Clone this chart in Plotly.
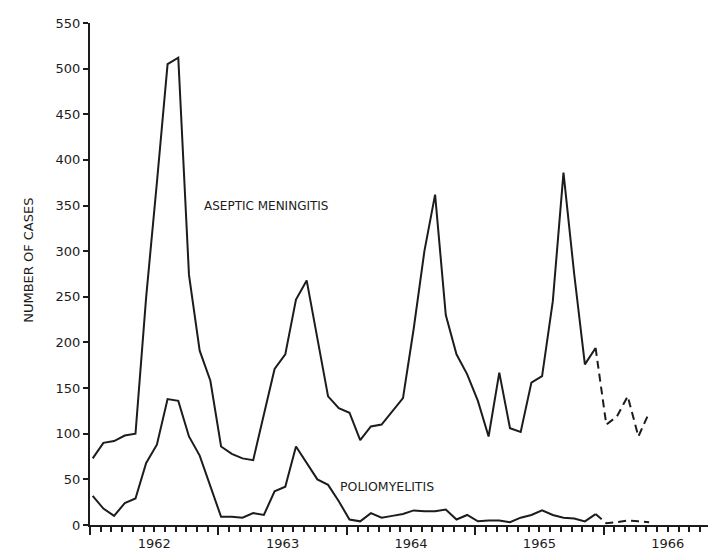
import plotly.graph_objects as go

# Monthly reported cases, January 1962 through May 1966
start_year = 1962
n_months = 53
aseptic_meningitis = [73, 90, 92, 98, 100, 250, 375, 505, 512, 274, 191, 158,
                      86, 78, 73, 71, 121, 171, 187, 247, 268, 205, 141, 128,
                      123, 93, 108, 110, 125, 139, 215, 300, 362, 230, 187, 165,
                      136, 97, 167, 106, 102, 156, 163, 245, 386, 275, 176, 194,
                      110, 119, 141, 97, 123]
poliomyelitis = [32, 18, 10, 24, 29, 68, 88, 138, 136, 97, 76, 43,
                 9, 9, 8, 13, 11, 37, 42, 86, 68, 50, 44, 26,
                 6, 4, 13, 8, 10, 12, 16, 15, 15, 17, 6, 11,
                 4, 5, 5, 3, 8, 11, 16, 11, 8, 7, 4, 12,
                 2, 3, 5, 4, 3]
provisional_from = 47          # last month drawn solid (Dec 1965); after it, dashed
year_labels = ["1962", "1963", "1964", "1965", "1966"]
y_ticks = list(range(0, 551, 50))

x = [i + 0.25 for i in range(n_months)]   # month index (0 = Jan 1962)

ink = "#1c1c1c"
font = "DejaVu Sans"

fig = go.Figure()
for series in (aseptic_meningitis, poliomyelitis):
    fig.add_trace(go.Scatter(x=x[:provisional_from + 1], y=series[:provisional_from + 1],
                             mode="lines", line=dict(color=ink, width=2),
                             showlegend=False, hoverinfo="skip"))
    fig.add_trace(go.Scatter(x=x[provisional_from:], y=series[provisional_from:],
                             mode="lines", line=dict(color=ink, width=2, dash="8px,5px"),
                             showlegend=False, hoverinfo="skip"))

# invisible trace on the second x-axis so the year-boundary ticks render
fig.add_trace(go.Scatter(x=[0], y=[0], xaxis="x2", mode="markers",
                         marker=dict(opacity=0), showlegend=False, hoverinfo="skip"))

x_end = 59.25
fig.update_layout(
    width=716, height=551,
    margin=dict(l=82, r=0, t=15, b=34),
    paper_bgcolor="white", plot_bgcolor="white",
    font=dict(family=font, size=13, color=ink),
    xaxis=dict(range=[0, x_end], showgrid=False, zeroline=False,
               showline=True, linecolor=ink, linewidth=2,
               tickvals=[6 + 12 * i for i in range(len(year_labels))],
               ticktext=year_labels, ticks="outside", ticklen=5, tickwidth=1.5,
               tickcolor=ink, tickfont=dict(size=13),
               minor=dict(dtick=1, tick0=0, ticks="outside", ticklen=5,
                          tickwidth=1.5, tickcolor=ink)),
    xaxis2=dict(range=[0, x_end], overlaying="x", side="bottom", showgrid=False,
                zeroline=False, showline=False, showticklabels=False,
                tickvals=[12 * i for i in range(len(year_labels))],
                ticks="outside", ticklen=9, tickwidth=2, tickcolor=ink),
    yaxis=dict(range=[0, 550], showgrid=False, zeroline=False,
               showline=True, linecolor=ink, linewidth=2,
               tickvals=y_ticks, ticks="outside", ticklen=5, tickwidth=1.5,
               tickcolor=ink, tickfont=dict(size=13)),
)

fig.add_annotation(text="ASEPTIC MENINGITIS", x=10.5, y=350, xref="x", yref="y",
                   xanchor="left", yanchor="middle", showarrow=False,
                   font=dict(family=font, size=12, color=ink))
fig.add_annotation(text="POLIOMYELITIS", x=23.2, y=42, xref="x", yref="y",
                   xanchor="left", yanchor="middle", showarrow=False,
                   font=dict(family=font, size=12.5, color=ink))
fig.add_annotation(text="NUMBER OF CASES", x=-0.097, y=290, xref="paper", yref="y",
                   textangle=-90, showarrow=False, xanchor="center", yanchor="middle",
                   font=dict(family=font, size=13, color=ink))

fig.write_html("out.html")
